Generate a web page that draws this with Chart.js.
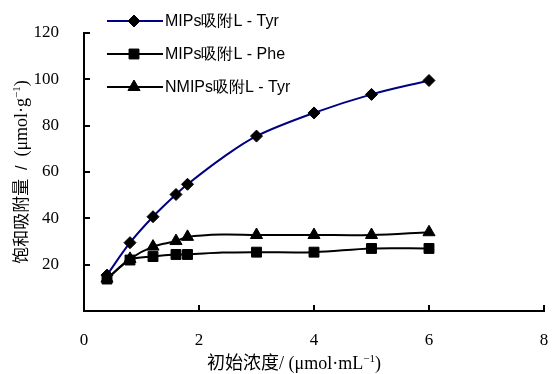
<!DOCTYPE html>
<html>
<head>
<meta charset="utf-8">
<script src="https://cdn.jsdelivr.net/npm/chart.js@4.4.0/dist/chart.umd.min.js"></script>
<style>
  body { margin: 0; background: #fff; }
  #wrap { width: 552px; height: 374px; }
</style>
</head>
<body>
<div id="wrap"><canvas id="myChart"></canvas></div>
<script>
// initial concentration (umol/mL) and saturated adsorption (umol/g)
const conc = [0.4, 0.8, 1.2, 1.6, 1.8, 2.4, 3, 4, 5, 6];
const mipsTyr = [15.5, 29.5, 40.7, 50.3, 54.7, 66, 75.5, 85.5, 93.5, 99.5];
const mipsPhe = [13.8, 22, 23.5, 24.4, 24.4, 25.2, 25.4, 25.4, 27, 27];
const nmipsTyr = [14, 22.5, 27.8, 30.2, 32, 33, 32.8, 32.8, 32.8, 34];
const shown = [1, 1, 1, 1, 1, 0, 1, 1, 1, 1]; // 2.4 is a curve point with no marker
const seriesNames = ['MIPs吸附L - Tyr', 'MIPs吸附L - Phe', 'NMIPs吸附L - Tyr'];
const xTicks = [0, 2, 4, 6, 8];
const yTicks = [20, 40, 60, 80, 100, 120];

const CJK = '"Noto Sans CJK SC", sans-serif';
const SERIF = '"Liberation Serif", "Times New Roman", serif';
const SANS = '"Liberation Sans", Arial, sans-serif';

function pts(ys) {
    return conc.map((x, i) => ({ x: x, y: ys[i] }));
}
function radii(r) {
    return shown.map(s => s ? r : 0);
}

const styles = [
    { color: '#000080', pointStyle: 'rectRot', radius: 6 },
    { color: '#000000', pointStyle: 'rect', radius: 7 },
    { color: '#000000', pointStyle: 'triangle', radius: 7 }
];

// draw a row of text pieces with mixed fonts, centred on cx
function richText(ctx, parts, cx, cy) {
    let total = 0;
    parts.forEach(p => { ctx.font = p.font; p.w = ctx.measureText(p.t).width; total += p.w; });
    let x = cx - total / 2;
    ctx.textBaseline = 'alphabetic';
    ctx.textAlign = 'left';
    parts.forEach(p => {
        ctx.font = p.font;
        ctx.fillText(p.t, x, cy + (p.dy || 0));
        x += p.w;
    });
}

const decor = {
    id: 'decor',
    afterDraw(chart) {
        const ctx = chart.ctx;
        const xs = chart.scales.x, ys = chart.scales.y;
        ctx.save();
        ctx.strokeStyle = '#000';
        ctx.lineWidth = 2;
        // inward tick marks
        ctx.beginPath();
        yTicks.forEach(v => {
            const py = Math.round(ys.getPixelForValue(v));
            ctx.moveTo(xs.left, py);
            ctx.lineTo(xs.left + 6, py);
        });
        xTicks.slice(1).forEach(v => {
            const px = Math.round(xs.getPixelForValue(v));
            ctx.moveTo(px, ys.bottom);
            ctx.lineTo(px, ys.bottom - 6);
        });
        ctx.stroke();

        // legend
        const rows = [21, 54, 87];
        chart.data.datasets.forEach((ds, i) => {
            const y = rows[i];
            ctx.strokeStyle = ds.borderColor;
            ctx.lineWidth = 2;
            ctx.beginPath();
            ctx.moveTo(107, y);
            ctx.lineTo(163, y);
            ctx.stroke();
            ctx.fillStyle = '#000';
            ctx.strokeStyle = '#000';
            ctx.lineWidth = 1;
            Chart.helpers.drawPoint(ctx, {
                pointStyle: ds.pointStyle, radius: styles[i].radius, borderWidth: 1
            }, 134, y);
            ctx.font = '16px ' + SANS;
            ctx.textAlign = 'left';
            ctx.textBaseline = 'middle';
            ctx.fillText(ds.label, 165, y + 1);
        });

        // axis titles
        ctx.fillStyle = '#000';
        richText(ctx, [
            { t: '初始浓度', font: '18px ' + CJK },
            { t: '/ (μmol·mL', font: '18px ' + SERIF },
            { t: '−1', font: '11px ' + SERIF, dy: -7 },
            { t: ')', font: '18px ' + SERIF }
        ], (xs.left + xs.right) / 2 - 20, 369);

        ctx.translate(27, (ys.top + ys.bottom) / 2);
        ctx.rotate(-Math.PI / 2);
        richText(ctx, [
            { t: '饱和吸附量', font: '17px ' + CJK },
            { t: '  /  ', font: '16px ' + SANS },
            { t: '(μmol·g', font: '18px ' + SERIF },
            { t: '−1', font: '11px ' + SERIF, dy: -7 },
            { t: ')', font: '18px ' + SERIF }
        ], 0, 0);
        ctx.restore();
    }
};

const ctx = document.getElementById('myChart');
const myChart = new Chart(ctx, {
    type: 'line',
    data: {
        datasets: [mipsTyr, mipsPhe, nmipsTyr].map((ys, i) => ({
            label: seriesNames[i],
            data: pts(ys),
            borderColor: styles[i].color,
            borderWidth: 2,
            backgroundColor: '#000',
            pointBackgroundColor: '#000',
            pointBorderColor: '#000',
            pointBorderWidth: 1,
            pointStyle: styles[i].pointStyle,
            pointRadius: radii(styles[i].radius),
            pointHoverRadius: radii(styles[i].radius),
            tension: 0.35,
            fill: false
        }))
    },
    options: {
        responsive: true,
        maintainAspectRatio: false,
        animation: false,
        events: [],
        layout: { padding: { top: 33, right: 4, left: 0, bottom: 0 } },
        plugins: { legend: { display: false }, tooltip: { enabled: false } },
        scales: {
            x: {
                type: 'linear',
                min: 0,
                max: 8,
                afterBuildTicks: s => { s.ticks = xTicks.map(v => ({ value: v })); },
                afterFit: s => { s.height = 63; s.paddingRight = 0; s.paddingLeft = 0; },
                grid: { display: false },
                border: { display: true, color: '#000', width: 2 },
                ticks: { color: '#000', padding: 11, maxRotation: 0, font: { family: SERIF, size: 17 } }
            },
            y: {
                min: 0,
                max: 120,
                afterBuildTicks: s => { s.ticks = yTicks.map(v => ({ value: v })); },
                afterFit: s => { s.width = 84; },
                grid: { display: false },
                border: { display: true, color: '#000', width: 2 },
                ticks: { color: '#000', padding: 17, font: { family: SERIF, size: 17 } }
            }
        }
    },
    plugins: [decor]
});
</script>
</body>
</html>
